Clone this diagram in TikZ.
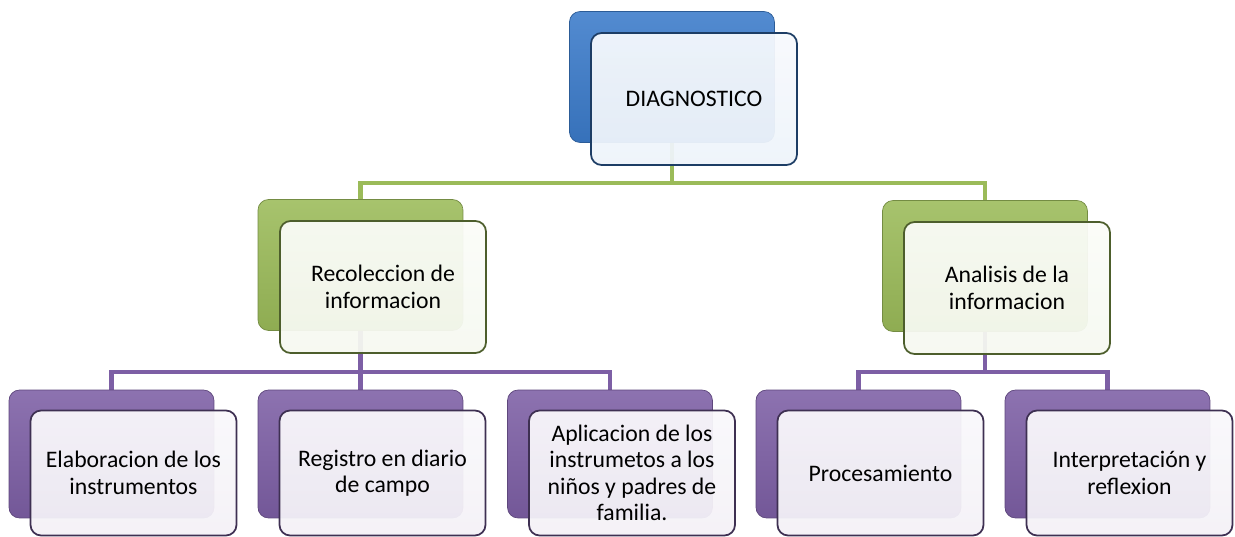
\documentclass[tikz,border=0pt]{standalone}
\usepackage{fontspec}
\setmainfont{Carlito}
\usetikzlibrary{backgrounds}

\begin{document}
\begin{tikzpicture}[x=0.02cm,y=-0.02cm,
  backbox/.style={rounded corners=6pt,minimum width=4.1cm,minimum height=2.62cm,
    draw=#1!75!black,line width=0.4pt,top color=#1!88!white,bottom color=#1!92!black},
  frontbox/.style={rounded corners=6pt,minimum width=4.12cm,minimum height=2.64cm,
    draw=#1!50!black,line width=1pt,top color=#1!4!white,bottom color=#1!9!white,
    fill opacity=0.94,text opacity=1,
    align=center,font=\fontsize{13.5}{15}\selectfont},
  link/.style={draw=#1,line width=2.4pt}]
\definecolor{diagblue}{HTML}{3B7BCA}
\definecolor{levgreen}{HTML}{9BBB59}
\definecolor{levpurple}{HTML}{7D5FA5}
\useasboundingbox (0,0) rectangle (1235,537);
% top
\node[backbox=diagblue] (diag-back) at (672,77) {};
\node[frontbox=diagblue] (diag) at (694,99) {DIAGNOSTICO};
% second level
\node[backbox=levgreen] (rec-back) at (360.5,265) {};
\node[frontbox=levgreen] (rec) at (383,287) {Recoleccion de\\ informacion};
\node[backbox=levgreen] (ana-back) at (985,266) {};
\node[frontbox=levgreen] (ana) at (1007,288) {Analisis de la\\ informacion};
% third level
\foreach \nm/\xx/\txt in {elab/111.5/{Elaboracion de los\\ instrumentos},
  reg/360.5/{Registro en diario\\ de campo},
  apl/610/{Aplicacion de los\\ instrumetos a los\\ niños y padres de\\ familia.},
  proc/858.5/{Procesamiento},
  inter/1107.5/{Interpretación y\\ reflexion}}
{ \node[backbox=levpurple,minimum height=2.56cm] (\nm-back) at (\xx,454) {};
  \node[frontbox=levpurple,minimum height=2.5cm] (\nm) at (\xx+22,473) {\txt};}
% connectors
\begin{scope}[on background layer]
\coordinate (barA) at (0,183);
\coordinate (barB) at (0,372);
\draw[link=levgreen] (diag-back.south) -- (diag-back.south |- barA) -| (rec-back.north);
\draw[link=levgreen] (diag-back.south |- barA) -| (ana-back.north);
\foreach \nm in {elab,reg,apl}
  \draw[link=levpurple] (rec-back.south) -- (rec-back.south |- barB) -| (\nm-back.north);
\foreach \nm in {proc,inter}
  \draw[link=levpurple] (ana-back.south) -- (ana-back.south |- barB) -| (\nm-back.north);
\end{scope}
\end{tikzpicture}
\end{document}
